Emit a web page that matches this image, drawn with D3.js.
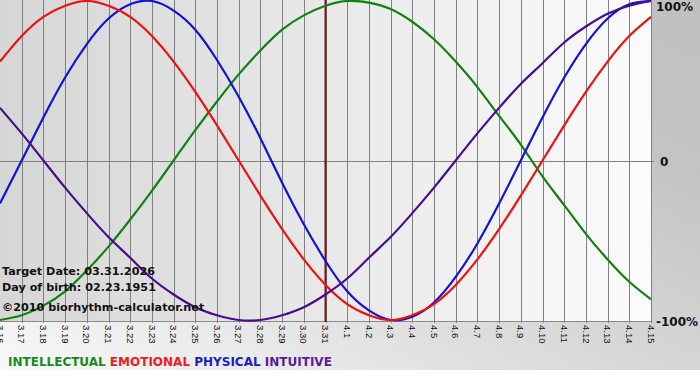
<!DOCTYPE html>
<html lang="en">

<head>
    <meta charset="UTF-8">
    <title>Biorhythm</title>
    <script src="https://d3js.org/d3.v7.min.js"></script>
    <style>
        body { margin: 0; background: #fff; }
    </style>
</head>

<body>
    <div id="chart"></div>

    <script>
        // Day labels on the x axis (3.16 .. 4.15)
        const days = ["3.16", "3.17", "3.18", "3.19", "3.20", "3.21", "3.22", "3.23", "3.24", "3.25",
            "3.26", "3.27", "3.28", "3.29", "3.30", "3.31", "4.1", "4.2", "4.3", "4.4", "4.5", "4.6",
            "4.7", "4.8", "4.9", "4.10", "4.11", "4.12", "4.13", "4.14", "4.15"];

        // Cycle values per day (-1 .. 1)
        const intellectual = [-1.00, -0.97, -0.91, -0.82, -0.69, -0.54, -0.37, -0.19, 0.00, 0.19,
            0.37, 0.54, 0.69, 0.82, 0.91, 0.97, 1.00, 0.99, 0.95, 0.87, 0.76, 0.62, 0.46, 0.28,
            0.10, -0.10, -0.28, -0.46, -0.62, -0.76, -0.87];
        const emotional = [0.62, 0.78, 0.90, 0.97, 1.00, 0.97, 0.90, 0.78, 0.62, 0.43,
            0.22, 0.00, -0.22, -0.43, -0.62, -0.78, -0.90, -0.97, -1.00, -0.97, -0.90, -0.78,
            -0.62, -0.43, -0.22, 0.00, 0.22, 0.43, 0.62, 0.78, 0.90];
        const physical = [-0.27, 0.00, 0.27, 0.52, 0.73, 0.89, 0.98, 1.00, 0.94, 0.82,
            0.63, 0.40, 0.14, -0.14, -0.40, -0.63, -0.82, -0.94, -1.00, -0.98, -0.89, -0.73,
            -0.52, -0.27, 0.00, 0.27, 0.52, 0.73, 0.89, 0.98, 1.00];
        const intuitive = [0.33, 0.17, 0.00, -0.17, -0.33, -0.48, -0.61, -0.74, -0.84, -0.92,
            -0.97, -1.00, -1.00, -0.97, -0.92, -0.84, -0.74, -0.61, -0.48, -0.33, -0.17, 0.00,
            0.17, 0.33, 0.48, 0.61, 0.74, 0.84, 0.92, 0.97, 1.00];

        const yTicks = [1, 0, -1];
        const yTickLabels = ["100%", "0", "-100%"];
        const targetDay = "3.31";

        const infoLines = ["Target Date: 03.31.2026", "Day of birth: 02.23.1951", "\u00a92010 biorhythm-calculator.net"];

        const series = [
            { name: "INTELLECTUAL", values: intellectual, color: "#118211", text: "#1a8a1a" },
            { name: "PHYSICAL", values: physical, color: "#1212d8", text: "#1c1cc8" },
            { name: "EMOTIONAL", values: emotional, color: "#ee1111", text: "#ee1c24" },
            { name: "INTUITIVE", values: intuitive, color: "#4a0c8c", text: "#5a1a9a" }
        ];
        const legendOrder = ["INTELLECTUAL", "EMOTIONAL", "PHYSICAL", "INTUITIVE"];

        const W = 700, H = 380;
        const plotW = 651, plotH = 321;

        const svg = d3.select("#chart").append("svg")
            .attr("width", W)
            .attr("height", H)
            .style("display", "block");

        const defs = svg.append("defs");
        const outerGrad = defs.append("linearGradient")
            .attr("id", "outer").attr("x1", 0).attr("y1", 1).attr("x2", 1).attr("y2", 0);
        outerGrad.append("stop").attr("offset", "0%").attr("stop-color", "#f8f8f8");
        outerGrad.append("stop").attr("offset", "75%").attr("stop-color", "#c4c4c4");
        outerGrad.append("stop").attr("offset", "100%").attr("stop-color", "#c0c0c0");

        const plotGrad = defs.append("linearGradient")
            .attr("id", "plotbg").attr("x1", 0).attr("y1", 0).attr("x2", 1).attr("y2", 0);
        plotGrad.append("stop").attr("offset", "0%").attr("stop-color", "#d6d6d6");
        plotGrad.append("stop").attr("offset", "100%").attr("stop-color", "#fbfbfb");

        svg.append("rect").attr("width", W).attr("height", 370).attr("fill", "url(#outer)");

        const xScale = d3.scaleLinear().domain([0, days.length - 1]).range([0, plotW]);
        const yScale = d3.scaleLinear().domain([-1, 1]).range([plotH - 1, 1]);

        svg.append("rect")
            .attr("x", 0).attr("y", 0)
            .attr("width", plotW).attr("height", plotH)
            .attr("fill", "url(#plotbg)");

        // vertical day grid
        svg.append("g")
            .selectAll("line")
            .data(days.slice(1))
            .join("line")
            .attr("x1", (d, i) => Math.round(xScale(i + 1)) + 0.5)
            .attr("x2", (d, i) => Math.round(xScale(i + 1)) + 0.5)
            .attr("y1", 0)
            .attr("y2", plotH + 2)
            .attr("stroke", "#808080")
            .attr("stroke-width", 1);

        // bottom axis + zero line
        svg.append("line")
            .attr("x1", 0).attr("x2", plotW + 1)
            .attr("y1", plotH + 0.5).attr("y2", plotH + 0.5)
            .attr("stroke", "#8a8a8a");
        svg.append("line")
            .attr("x1", 0).attr("x2", plotW + 3)
            .attr("y1", Math.round(yScale(0)) + 0.5).attr("y2", Math.round(yScale(0)) + 0.5)
            .attr("stroke", "#808080");

        // target day marker
        const tx = xScale(days.indexOf(targetDay));
        svg.append("line")
            .attr("x1", tx).attr("x2", tx)
            .attr("y1", 0).attr("y2", plotH + 1)
            .attr("stroke", "#7a1616")
            .attr("stroke-width", 2);

        const lineGenerator = d3.line()
            .x((d, i) => xScale(i))
            .y(d => yScale(d))
            .curve(d3.curveNatural);

        svg.append("g")
            .selectAll("path")
            .data(series)
            .join("path")
            .attr("d", d => lineGenerator(d.values))
            .attr("fill", "none")
            .attr("stroke", d => d.color)
            .attr("stroke-width", 2.2);

        // day labels, rotated
        svg.append("g")
            .selectAll("text")
            .data(days)
            .join("text")
            .attr("transform", (d, i) => "translate(" + xScale(i) + "," + (plotH + 4) + ") rotate(90)")
            .attr("dy", "0.35em")
            .attr("font-family", "Liberation Sans, Arial, sans-serif")
            .attr("font-size", "9.5px")
            .attr("fill", "#111")
            .text(d => d);

        // right percentage labels
        svg.append("g")
            .selectAll("text")
            .data(yTicks)
            .join("text")
            .attr("x", (d, i) => d === 0 ? 660 : 656)
            .attr("y", d => d === 1 ? 11 : (d === 0 ? yScale(d) + 5 : yScale(d) + 6))
            .attr("font-family", "DejaVu Sans, Verdana, sans-serif")
            .attr("font-weight", "bold")
            .attr("font-size", "12px")
            .attr("fill", "#111")
            .text((d, i) => yTickLabels[i]);

        // info text
        svg.append("g")
            .selectAll("text")
            .data(infoLines)
            .join("text")
            .attr("x", 2)
            .attr("y", (d, i) => [275, 291, 311][i])
            .attr("font-family", "DejaVu Sans, Verdana, sans-serif")
            .attr("font-weight", "bold")
            .attr("font-size", "11.2px")
            .attr("fill", "#111")
            .text(d => d);

        // legend
        const legend = svg.append("text")
            .attr("x", 8)
            .attr("y", 366)
            .attr("font-family", "DejaVu Sans, Verdana, sans-serif")
            .attr("font-weight", "bold")
            .attr("font-size", "12px");
        legendOrder.forEach((name, i) => {
            const s = series.find(d => d.name === name);
            legend.append("tspan")
                .attr("fill", s.text)
                .text((i > 0 ? " " : "") + name);
        });
    </script>
</body>

</html>
